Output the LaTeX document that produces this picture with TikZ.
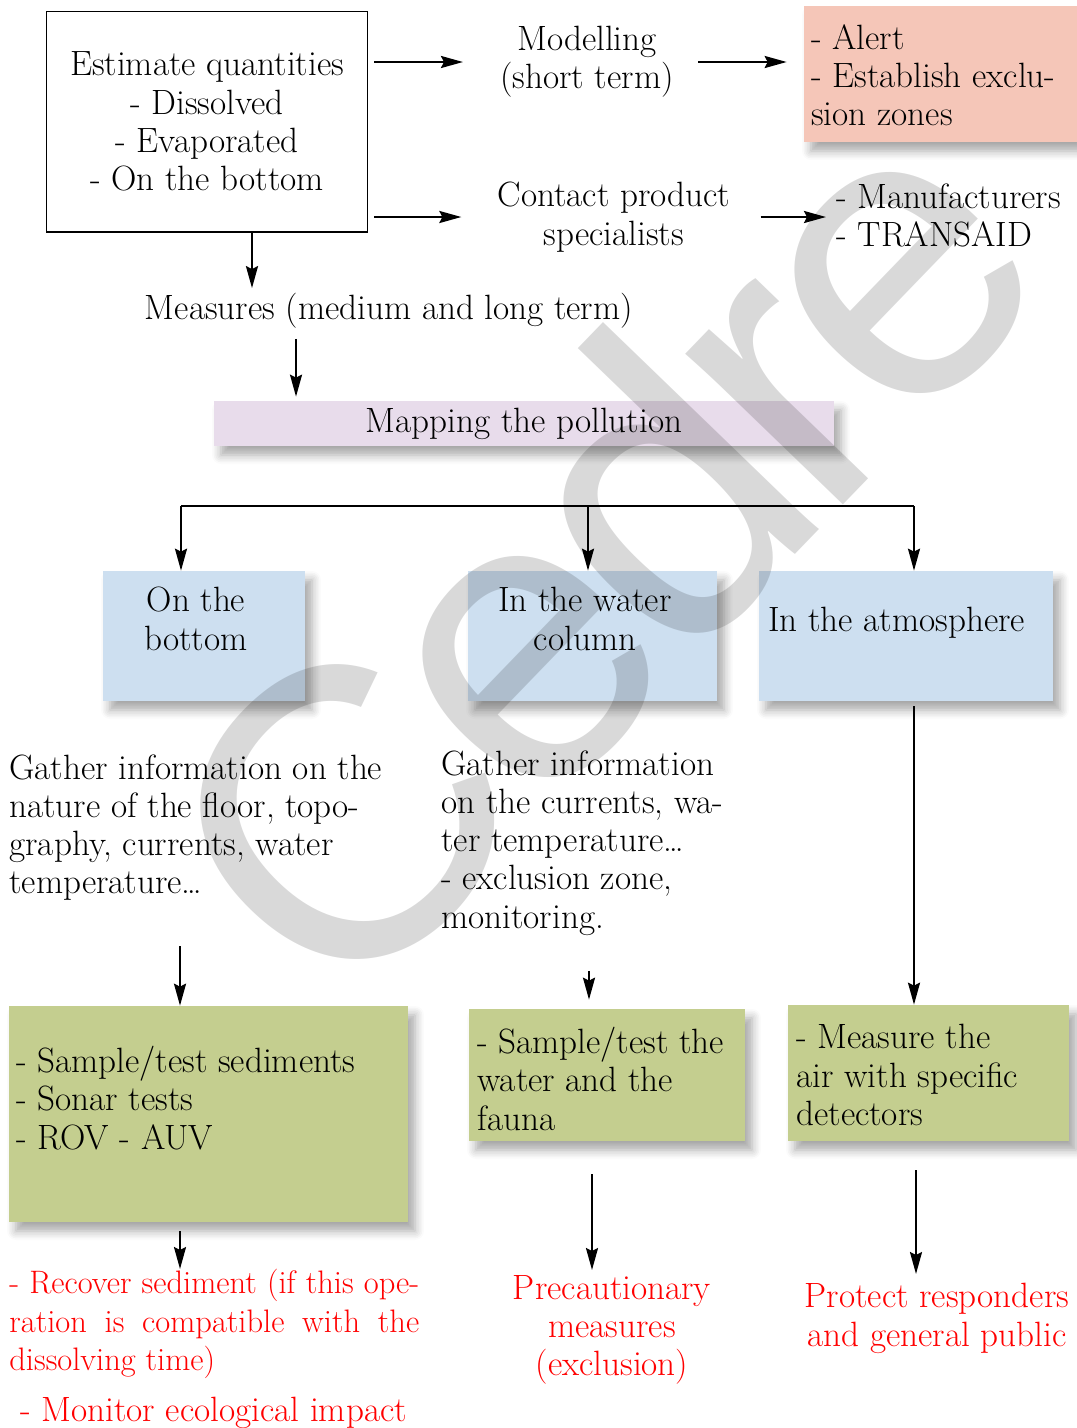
\documentclass[tikz,border=0pt]{standalone}
\usepackage{fontspec}
\newfontfamily\markfont[LetterSpace=-5]{Liberation Sans}
\usetikzlibrary{arrows.meta,calc,shadows.blur}
\definecolor{AlertClr}{HTML}{F5C6B8}
\definecolor{MapClr}{HTML}{E8DCEB}
\definecolor{ZoneClr}{HTML}{CDDFF0}
\definecolor{ActClr}{HTML}{C4CE8F}
\definecolor{ResClr}{HTML}{FF0000}

\begin{document}
\begin{tikzpicture}[x=0.02cm,y=-0.02cm,
  every node/.style={font=\fontsize{20}{21.8}\selectfont,inner sep=0pt},
  arr/.style={line width=1.3pt,-{Stealth[length=0.44cm,width=0.24cm,inset=0.06cm]}},
  shade/.style={blur shadow={shadow xshift=0.14cm,shadow yshift=-0.18cm,shadow blur radius=0.18cm,shadow blur steps=6,shadow opacity=35}},
  filled/.style={shade,fill=#1},
  res/.style={text=ResClr}]
\useasboundingbox (0,0) rectangle (1077,1428);

\node[draw,line width=0.6pt,minimum width=6.44cm,minimum height=4.42cm,align=center] (est) at (207,121.5)
  {Estimate quantities\\- Dissolved\\- Evaporated\\- On the bottom};
\node[align=center] (model) at (587,62) {Modelling\\(short term)};
\node[filled=AlertClr,minimum width=5.46cm,minimum height=2.72cm] (alert) at (940.5,74) {};
\node[align=left,anchor=north west] (alertT) at (811,24) {- Alert\\- Establish exclu-\\sion zones};
\node[align=center] (contact) at (614,217) {Contact product\\specialists};
\node[align=left,anchor=north west] (manuf) at (836,183) {- Manufacturers\\- TRANSAID};
\node (meas) at (389,311) {Measures (medium and long term)};
\node[filled=MapClr,minimum width=12.4cm,minimum height=0.9cm] (map) at (524,423.5) {Mapping the pollution};

\node[filled=ZoneClr,minimum width=4.04cm,minimum height=2.6cm] (bot) at (204,636) {};
\node[align=center,anchor=north] (botT) at (196,587) {On the\\bottom};
\node[filled=ZoneClr,minimum width=4.98cm,minimum height=2.6cm] (water) at (592.5,636) {};
\node[align=center,anchor=north] (waterT) at (585,587) {In the water\\column};
\node[filled=ZoneClr,minimum width=5.88cm,minimum height=2.6cm] (atm) at (906,636) {};
\node[anchor=north west] (atmT) at (768,607) {In the atmosphere};

\node[align=left,anchor=north west] (gath1) at (9,754)
  {Gather information on the\\nature of the floor, topo-\\graphy, currents, water\\temperature\dots};
\node[align=left,anchor=north west] (gath2) at (441,750)
  {Gather information\\on the currents, wa-\\ter temperature\dots\\- exclusion zone,\\monitoring.};

\node[filled=ActClr,minimum width=7.98cm,minimum height=4.32cm] (sed) at (208.5,1114) {};
\node[align=left,anchor=north west] (sedT) at (16,1046) {- Sample/test sediments\\- Sonar tests\\- ROV - AUV};
\node[filled=ActClr,minimum width=5.52cm,minimum height=2.64cm] (wat2) at (607,1075) {};
\node[align=left,anchor=north west] (wat2T) at (477,1027) {- Sample/test the\\water and the\\fauna};
\node[filled=ActClr,minimum width=5.62cm,minimum height=2.72cm] (air) at (928.5,1073) {};
\node[align=left,anchor=north west] (airT) at (796,1024) {- Measure the\\air with specific\\detectors};

\node[res,align=left,anchor=north west,font=\fontsize{18.5}{21.8}\selectfont] (recov) at (9,1269)
  {\makebox[8.2cm][s]{- Recover sediment (if this ope-}\\\makebox[8.2cm][s]{ration is compatible with the}\\dissolving time)};
\node[res,anchor=north west] (monit) at (20,1397) {- Monitor ecological impact};
\node[res,align=center,anchor=north] (prec) at (612,1275) {Precautionary\\measures\\(exclusion)};
\node[res,align=center,anchor=north] (prot) at (937,1283) {Protect responders\\and general public};

\coordinate (fork) at (588,506);

\draw[arr,shorten <=0.12cm,shorten >=0.74cm] (est.east |- model.west) -- (model.west);
\draw[arr,shorten <=0.48cm,shorten >=0.34cm] (model.east) -- (model.east -| alert.west);
\draw[arr,shorten <=0.12cm,shorten >=0.72cm] (est.east |- contact.west) -- (contact.west);
\draw[arr,shorten <=0.6cm,shorten >=0.2cm] (contact.east) -- (contact.east -| manuf.west);
\draw[arr,shorten >=0.1cm] ([xshift=0.9cm]est.south) -- ([xshift=0.9cm]est.south |- meas.north);
\draw[arr,shorten <=0.2cm,shorten >=0.08cm] ([xshift=-1.86cm]meas.south) -- ([xshift=-1.86cm]meas.south |- map.north);

\draw[line width=1.6pt] ([xshift=-0.46cm]bot.north |- fork) -- ([xshift=0.16cm]atm.north |- fork);
\draw[arr] (fork) -- (fork |- water.north);
\draw[arr] ([xshift=-0.46cm]bot.north |- fork) -- ([xshift=-0.46cm]bot.north);
\draw[arr] ([xshift=0.16cm]atm.north |- fork) -- ([xshift=0.16cm]atm.north);

\draw[arr,shorten <=0.1cm] ([xshift=0.16cm]atm.south) -- ([xshift=0.16cm]atm.south |- air.north);
\draw[arr,shorten <=0.9cm] ([xshift=-0.57cm]sed.north |- gath1.south) -- ([xshift=-0.57cm]sed.north);
\draw[arr,shorten <=0.7cm,shorten >=0.18cm] ([xshift=-0.36cm]wat2.north |- gath2.south) -- ([xshift=-0.36cm]wat2.north);
\draw[arr,shorten <=0.18cm] ([xshift=-0.57cm]sed.south) -- ([xshift=-0.57cm]sed.south |- recov.north);
\draw[arr,shorten <=0.66cm,shorten >=0.1cm] ([xshift=-0.3cm]wat2.south) -- ([xshift=-0.3cm]wat2.south |- prec.north);
\draw[arr,shorten <=0.58cm,shorten >=0.18cm] ([xshift=-0.25cm]air.south) -- ([xshift=-0.25cm]air.south |- prot.north);

\node[font={\markfont\fontsize{235}{235}\selectfont},text=black,opacity=0.15,rotate=46] (mark) at (596,548) {Cedre};
\end{tikzpicture}
\end{document}
